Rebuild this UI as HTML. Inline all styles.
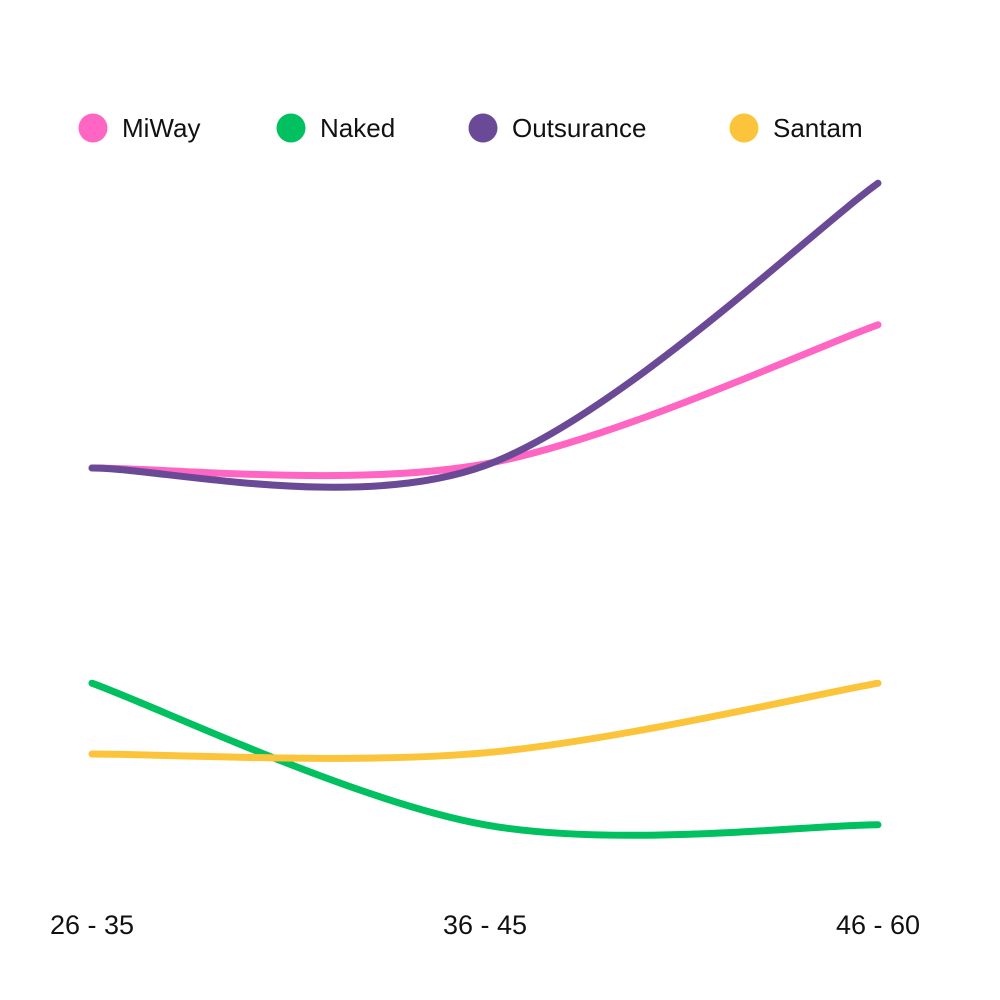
<!DOCTYPE html>
<html><head><meta charset="utf-8"><style>
html,body{margin:0;padding:0;background:#fff;}
svg{display:block;font-family:"Liberation Sans",sans-serif;}
</style></head><body>
<svg id="chart" width="1000" height="1000">
<g id="legend"></g>
<g id="lines"></g>
<g id="xaxis"></g>
</svg>
<script>
const categories = ["26 - 35", "36 - 45", "46 - 60"];
const seriesNames = ["MiWay", "Naked", "Outsurance", "Santam"];
const seriesColors = ["#ff66c4", "#00c060", "#6a4a96", "#fbc43a"];
const miway = [54, 54.5, 71.9];
const naked = [27.1, 9.4, 9.4];
const outsurance = [54, 54.3, 89.6];
const santam = [18.25, 18.4, 27.1];
const seriesValues = [miway, naked, outsurance, santam];
const drawOrder = [1, 3, 0, 2];

const NS = "http://www.w3.org/2000/svg";
function xScale(i){ return 92 + i * (878 - 92) / (categories.length - 1); }
function yScale(v){ return 900 - v * 8; }
function mk(tag, attrs, parent){ const e = document.createElementNS(NS, tag); for (const k in attrs) e.setAttribute(k, attrs[k]); parent.appendChild(e); return e; }

function pathFor(vals){
  const p = vals.map((v,i)=>[xScale(i), yScale(v)]);
  let d = "M" + p[0][0] + "," + p[0][1];
  for (let i=0;i<p.length-1;i++){
    const p0 = p[i-1]||p[i], p1=p[i], p2=p[i+1], p3=p[i+2]||p[i+1];
    const c1=[p1[0]+(p2[0]-p0[0])/6, p1[1]+(p2[1]-p0[1])/6];
    const c2=[p2[0]-(p3[0]-p1[0])/6, p2[1]-(p3[1]-p1[1])/6];
    d += " C"+c1+" "+c2+" "+p2;
  }
  return d;
}

const lines = document.getElementById("lines");
drawOrder.forEach(s=>{
  const el = mk("path", {d: pathFor(seriesValues[s]), fill:"none", stroke:seriesColors[s], "stroke-width":7, "stroke-linecap":"round"}, lines);
  
  
});

const legendX = [93, 291, 483, 744];
const legend = document.getElementById("legend");
seriesNames.forEach((n,i)=>{
  const g = mk("g", {}, legend);
  
  
  mk("circle", {cx:legendX[i], cy:128, r:14.5, fill:seriesColors[i]}, g);
  const t = mk("text", {x:legendX[i]+29, y:137, "font-size":26, fill:"#111"}, g);
  t.textContent = n;
});

const xaxis = document.getElementById("xaxis");
categories.forEach((c,i)=>{
  const t = mk("text", {x:xScale(i), y:934, "font-size":27, fill:"#111", "text-anchor":"middle"}, xaxis);
  
  
  t.textContent = c;
});
</script>
</body></html>
